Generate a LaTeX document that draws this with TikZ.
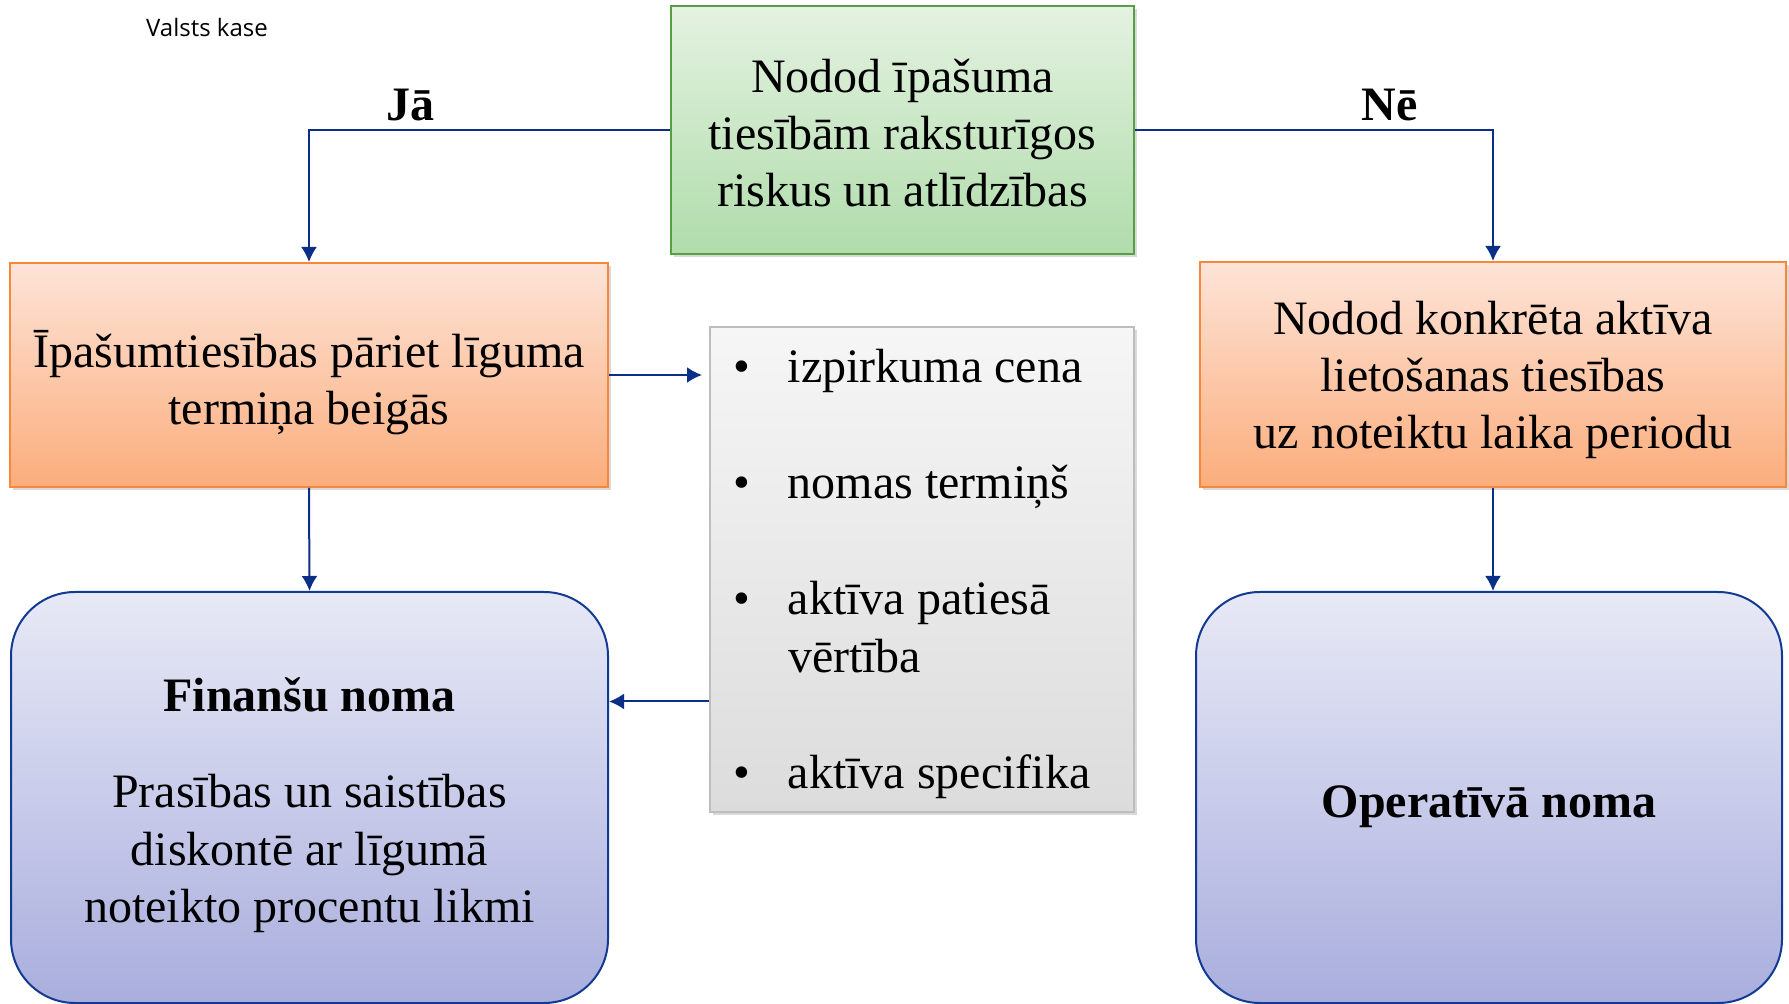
\documentclass[tikz,border=0pt]{standalone}
\usepackage{fontspec}
\setmainfont{Liberation Serif}
\newfontfamily\kasefont{Open Sans}
\usetikzlibrary{arrows.meta,shadows}

\definecolor{zalaAug}{HTML}{E4F2E1}
\definecolor{zalaApa}{HTML}{B0DCAB}
\definecolor{zalaMala}{HTML}{55A043}
\definecolor{oranzAug}{HTML}{FDE4D8}
\definecolor{oranzApa}{HTML}{FBAD7C}
\definecolor{oranzMala}{HTML}{F8873A}
\definecolor{peleksAug}{HTML}{F6F6F6}
\definecolor{peleksApa}{HTML}{DCDCDC}
\definecolor{peleksMala}{HTML}{BDBDBD}
\definecolor{zilaAug}{HTML}{E8E9F6}
\definecolor{zilaApa}{HTML}{A9AEDD}
\definecolor{zilaMala}{HTML}{123A93}
\definecolor{bulta}{HTML}{0B2E86}

\begin{document}
\begin{tikzpicture}
[x=0.5pt,y=-0.5pt,%
  every node/.style={shape=rectangle,inner sep=0pt,align=center,%
    font=\fontsize{24}{28.5}\selectfont},%
  kaste/.style={draw,line width=1pt,align=flush center,%
    drop shadow={shadow xshift=1.5pt,shadow yshift=-1.5pt,opacity=0.3}},%
  zala/.style={kaste,draw=zalaMala,top color=zalaAug,bottom color=zalaApa},%
  oranza/.style={kaste,draw=oranzMala,top color=oranzAug,bottom color=oranzApa},%
  peleka/.style={kaste,draw=peleksMala,top color=peleksAug,bottom color=peleksApa},%
  zila/.style={draw=zilaMala,line width=1pt,rounded corners=32pt,align=flush center,%
    top color=zilaAug,bottom color=zilaApa},%
  nolaist/.style={execute at begin node={\rule{0pt}{#1}}},%
  atbilde/.style={font=\fontsize{24}{28.5}\selectfont\bfseries},%
  bultina/.style={draw=bulta,line width=1pt,-{Latex[length=7.5pt,width=8pt]}}]
\useasboundingbox (0,0) rectangle (1789,1004);
\node (kase) at (207,28) {\kasefont\fontsize{12}{14}\selectfont Valsts kase};
% augsha
\node[zala,nolaist=19.8pt,text width=220pt,minimum width=231.5pt,minimum height=124pt]
  (kriterijs) at (902.5,130)
  {Nodod īpašuma\\tiesībām raksturīgos\\riskus un atlīdzības};
\node[oranza,nolaist=26.5pt,text width=285pt,minimum width=299pt,minimum height=112pt]
  (ipasums) at (309,375)
  {Īpašumtiesības pāriet līguma\\termiņa beigās};
\node[oranza,nolaist=22.6pt,text width=280pt,minimum width=293pt,minimum height=112.5pt]
  (lietosana) at (1493,374.5)
  {Nodod konkrēta aktīva\\lietošanas tiesības\\uz noteiktu laika periodu};
% saraksts
\node[peleka,nolaist=21.5pt,minimum width=212pt,minimum height=242.5pt,inner xsep=11.5pt,
  text width=189pt,align=flush left,font=\fontsize{24}{29}\selectfont]
  (saraksts) at (922,569.5)
  {\makebox[27.5pt][l]{\textbullet}izpirkuma cena\\[29pt]
   \makebox[27.5pt][l]{\textbullet}nomas termiņš\\[29pt]
   \makebox[27.5pt][l]{\textbullet}aktīva patiesā\\
   \hspace*{27.5pt}vērtība\\[29pt]
   \makebox[27.5pt][l]{\textbullet}aktīva specifika};
% apaksha
\node[zila,nolaist=25pt,text width=285pt,minimum width=298.5pt,minimum height=205.5pt,
  font=\fontsize{24}{28.8}\selectfont] (finansu) at (309.5,797.5)
  {\textbf{Finanšu noma}\\[19pt]Prasības un saistības\\diskontē ar līgumā\\noteikto procentu likmi};
\node[zila,nolaist=25.5pt,minimum width=293pt,minimum height=205.5pt] (operativa) at (1489,797.5)
  {\textbf{Operatīvā noma}};
% bultas
\draw[bultina] (kriterijs.west) -| node[atbilde,pos=0.36,above=4pt] {Jā} (ipasums.north);
\draw[bultina] (kriterijs.east) -| node[atbilde,pos=0.356,above=4pt] {Nē} (lietosana.north);
\draw[bultina,shorten >=3.5pt] (ipasums.east) -- (ipasums.east -| saraksts.west);
\draw[bultina] (ipasums.south) -- (finansu.north);
\draw[bultina] (lietosana.south) -- (lietosana.south |- operativa.north);
\coordinate (sarakstsIzeja) at ([yshift=-66pt]saraksts.west);
\draw[bultina] (sarakstsIzeja) -- (sarakstsIzeja -| finansu.east);
\end{tikzpicture}
\end{document}
